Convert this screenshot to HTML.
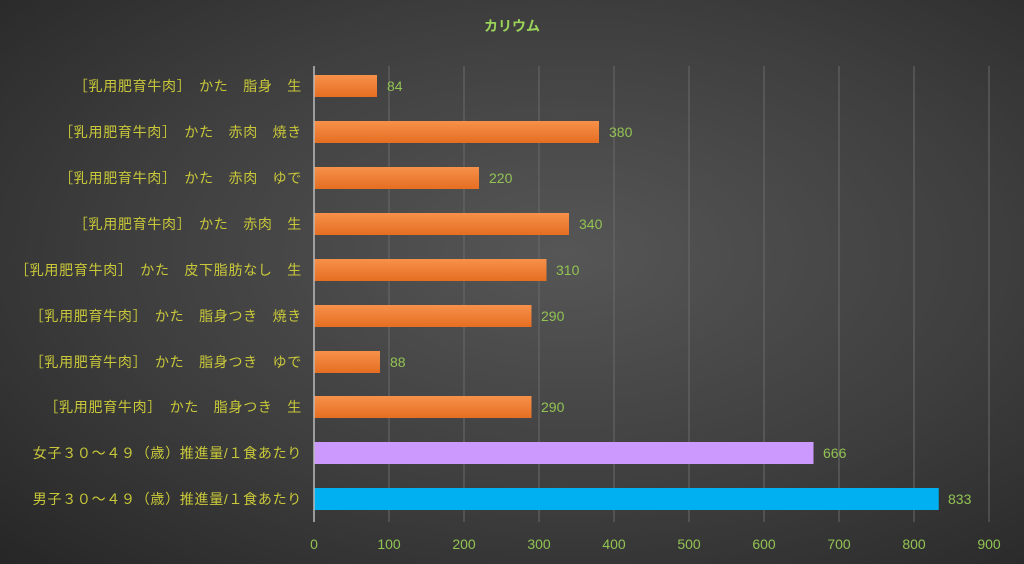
<!DOCTYPE html>
<html><head><meta charset="utf-8"><style>
html,body{margin:0;padding:0;}
body{width:1024px;height:564px;overflow:hidden;background:radial-gradient(ellipse at 55% 45%,#565656 0%,#3e3e3e 55%,#262626 100%);}
svg{display:block;font-family:"Liberation Sans","Noto Sans CJK JP",sans-serif;}
</style></head><body>
<svg width="1024" height="564" xmlns="http://www.w3.org/2000/svg">
<defs>
<linearGradient id="og" x1="0" y1="0" x2="0" y2="1"><stop offset="0" stop-color="#f7914a"/><stop offset="1" stop-color="#e56e22"/></linearGradient>
</defs>
<text x="512" y="31" text-anchor="middle" font-size="14" font-weight="bold" fill="#9bd35a">カリウム</text>
<g stroke="#6a6a6a" stroke-width="1">
<line x1="389" y1="66" x2="389" y2="522"/><line x1="464" y1="66" x2="464" y2="522"/><line x1="539" y1="66" x2="539" y2="522"/><line x1="614" y1="66" x2="614" y2="522"/><line x1="689" y1="66" x2="689" y2="522"/><line x1="764" y1="66" x2="764" y2="522"/><line x1="839" y1="66" x2="839" y2="522"/><line x1="914" y1="66" x2="914" y2="522"/><line x1="989" y1="66" x2="989" y2="522"/>
</g>
<g fill="url(#og)">
<rect x="314" y="75" width="63" height="22"/>
<rect x="314" y="121" width="285" height="22"/>
<rect x="314" y="167" width="165" height="22"/>
<rect x="314" y="213" width="255" height="22"/>
<rect x="314" y="259" width="232.5" height="22"/>
<rect x="314" y="305" width="217.5" height="22"/>
<rect x="314" y="351" width="66" height="22"/>
<rect x="314" y="396" width="217.5" height="22"/>
</g>
<rect x="314" y="442" width="499.5" height="22" fill="#cc99ff"/>
<rect x="314" y="488" width="624.75" height="22" fill="#00b0f0"/>
<line x1="314" y1="66" x2="314" y2="522" stroke="#bbbbbb" stroke-width="1.5"/>
<g font-size="14" fill="#92c353">
<text x="387" y="91">84</text><text x="609" y="137">380</text><text x="489" y="183">220</text><text x="579" y="229">340</text><text x="556" y="275">310</text><text x="541" y="321">290</text><text x="390" y="367">88</text><text x="541" y="412">290</text><text x="823" y="458">666</text><text x="948" y="504">833</text>
</g>
<g font-size="14" fill="#c9c83a" text-anchor="end" letter-spacing="0.7">
<text x="302" y="91">［乳用肥育牛肉］　かた　脂身　生</text>
<text x="302" y="137">［乳用肥育牛肉］　かた　赤肉　焼き</text>
<text x="302" y="183">［乳用肥育牛肉］　かた　赤肉　ゆで</text>
<text x="302" y="229">［乳用肥育牛肉］　かた　赤肉　生</text>
<text x="302" y="275">［乳用肥育牛肉］　かた　皮下脂肪なし　生</text>
<text x="302" y="321">［乳用肥育牛肉］　かた　脂身つき　焼き</text>
<text x="302" y="367">［乳用肥育牛肉］　かた　脂身つき　ゆで</text>
<text x="302" y="412">［乳用肥育牛肉］　かた　脂身つき　生</text>
<text x="302" y="458">女子３０～４９（歳）推進量/１食あたり</text>
<text x="302" y="504">男子３０～４９（歳）推進量/１食あたり</text>
</g>
<g font-size="14" fill="#92c353" text-anchor="middle">
<text x="314" y="549">0</text><text x="389" y="549">100</text><text x="464" y="549">200</text><text x="539" y="549">300</text><text x="614" y="549">400</text><text x="689" y="549">500</text><text x="764" y="549">600</text><text x="839" y="549">700</text><text x="914" y="549">800</text><text x="989" y="549">900</text>
</g>
</svg>
</body></html>
